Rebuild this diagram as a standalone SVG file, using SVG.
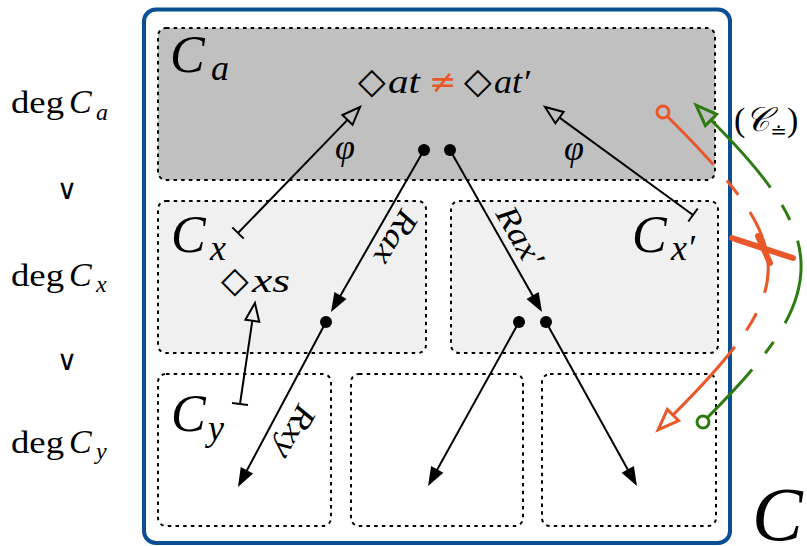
<svg xmlns="http://www.w3.org/2000/svg" width="807" height="546" viewBox="0 0 807 546">
<defs>
<style>
.m{font-family:"Liberation Serif","DejaVu Serif",serif;font-style:italic;fill:#000}
.r{font-family:"Liberation Serif","DejaVu Serif",serif;fill:#000}
.s{font-family:"DejaVu Sans","Noto Sans",sans-serif;fill:#000}
.v{font-family:"DejaVu Serif",serif;fill:#000}
.o{fill:#e9582b}
.box{stroke:#000;stroke-width:2;stroke-dasharray:3.5 4.2}
.ln{stroke:#000;stroke-width:2;fill:none}
.or{stroke:#e9582b;stroke-width:3;fill:none}
.gr{stroke:#2e7b11;stroke-width:3;fill:none}
</style>
<marker id="af" markerUnits="userSpaceOnUse" viewBox="-2 -10 26 20" markerWidth="26" markerHeight="20" refX="16" refY="0" orient="auto" overflow="visible"><path d="M0,-7 L19,0 L0,7 Z" fill="#000"/></marker>
<marker id="ao" markerUnits="userSpaceOnUse" viewBox="-3 -10 26 20" markerWidth="26" markerHeight="20" refX="0" refY="0" orient="auto" overflow="visible"><path d="M0,-7 L18,0 L0,7 Z" fill="none" stroke="#000" stroke-width="2"/></marker>
<marker id="aor" markerUnits="userSpaceOnUse" viewBox="-3 -11 30 22" markerWidth="30" markerHeight="22" refX="0" refY="0" orient="auto" overflow="visible"><path d="M0,-8 L21,0 L0,8 Z" fill="none" stroke="#e9582b" stroke-width="3"/></marker>
<marker id="agr" markerUnits="userSpaceOnUse" viewBox="-3 -11 30 22" markerWidth="30" markerHeight="22" refX="0" refY="0" orient="auto" overflow="visible"><path d="M0,-8 L21,0 L0,8 Z" fill="none" stroke="#2e7b11" stroke-width="3"/></marker>
</defs>
<rect width="807" height="546" fill="#fff"/>

<g id="frame">
<rect x="144" y="9.5" width="586" height="533.5" rx="12" fill="none" stroke="#0a4f94" stroke-width="4"/>
<text class="m" x="752" y="540" font-size="76">C</text>
</g>

<g id="levels">
<text class="r" x="11" y="113" font-size="32" textLength="53" lengthAdjust="spacingAndGlyphs">deg</text>
<text class="m" x="69" y="113" font-size="34">C</text>
<text class="m" x="96" y="120" font-size="24">a</text>
<text class="v" x="67" y="199" font-size="28" text-anchor="middle">∨</text>
<text class="r" x="11" y="286" font-size="32" textLength="53" lengthAdjust="spacingAndGlyphs">deg</text>
<text class="m" x="69" y="286" font-size="34">C</text>
<text class="m" x="96" y="292" font-size="24">x</text>
<text class="v" x="67" y="370" font-size="28" text-anchor="middle">∨</text>
<text class="r" x="11" y="453" font-size="32" textLength="53" lengthAdjust="spacingAndGlyphs">deg</text>
<text class="m" x="69" y="453" font-size="34">C</text>
<text class="m" x="96" y="459" font-size="24">y</text>
</g>

<g id="Ca">
<rect class="box" x="158" y="28" width="557" height="152" rx="8" fill="#c0c0c0"/>
<text class="m" x="170" y="72" font-size="52">C</text>
<text class="m" x="211" y="80" font-size="36">a</text>
<text x="358" y="93" font-size="34"><tspan class="s" font-size="36">◇</tspan><tspan class="m" x="388" textLength="32" lengthAdjust="spacingAndGlyphs">at</tspan><tspan class="s o" x="429" font-size="33">≠</tspan><tspan class="s" x="464" font-size="36">◇</tspan><tspan class="m" x="494" textLength="36" lengthAdjust="spacingAndGlyphs">at′</tspan></text>
</g>

<g id="Cx">
<rect class="box" x="158" y="201" width="268" height="152" rx="8" fill="#f0f0f0"/>
<text class="m" x="171" y="252" font-size="52">C</text>
<text class="m" x="210" y="260" font-size="36">x</text>
<text x="221" y="292" font-size="34"><tspan class="s" font-size="36">◇</tspan><tspan class="m" x="252" textLength="38" lengthAdjust="spacingAndGlyphs">xs</tspan></text>
</g>

<g id="Cx2">
<rect class="box" x="451" y="201" width="267" height="152" rx="8" fill="#f0f0f0"/>
<text class="m" x="632" y="252" font-size="52">C</text>
<text class="m" x="671" y="260" font-size="36">x′</text>
</g>

<g id="Cy">
<rect class="box" x="158" y="374" width="173" height="152" rx="8" fill="none"/>
<text class="m" x="171" y="431" font-size="52">C</text>
<text class="m" x="208" y="440" font-size="36">y</text>
</g>
<g id="Cy2">
<rect class="box" x="351" y="374" width="172" height="152" rx="8" fill="none"/>
</g>
<g id="Cy3">
<rect class="box" x="542" y="374" width="174" height="152" rx="8" fill="none"/>
</g>

<g id="connectors">
<path class="ln" d="M238,233 L347.5,119.9" marker-end="url(#ao)"/>
<path class="ln" d="M232.3,227.4 L243.7,238.6"/>
<text class="m" x="345" y="159" font-size="36" text-anchor="middle">φ</text>
<path class="ln" d="M693,215 L559.5,117.6" marker-end="url(#ao)"/>
<path class="ln" d="M697.7,208.5 L688.3,221.5"/>
<text class="m" x="574" y="160" font-size="36" text-anchor="middle">φ</text>
<path class="ln" d="M240,404 L252.3,320.8" marker-end="url(#ao)"/>
<path class="ln" d="M232,403 L248,405"/>
<path class="ln" d="M424,150 L332.5,309.4" marker-end="url(#af)"/>
<path class="ln" d="M450,150 L540.5,309.4" marker-end="url(#af)"/>
<path class="ln" d="M326,322 L239.4,484.4" marker-end="url(#af)"/>
<path class="ln" d="M519,322 L429.5,483.4" marker-end="url(#af)"/>
<path class="ln" d="M546,322 L635.5,483.4" marker-end="url(#af)"/>
<circle cx="424" cy="150" r="6"/>
<circle cx="450" cy="150" r="6"/>
<circle cx="326" cy="322" r="6"/>
<circle cx="519" cy="322" r="6"/>
<circle cx="546" cy="322" r="6"/>
<text class="m" font-size="32" text-anchor="middle" textLength="58" lengthAdjust="spacingAndGlyphs" transform="translate(387,232.5) rotate(120)">Rax</text>
<text class="m" font-size="32" text-anchor="middle" textLength="64" lengthAdjust="spacingAndGlyphs" transform="translate(511,241.5) rotate(60)">Rax′</text>
<text class="m" font-size="32" text-anchor="middle" textLength="56" lengthAdjust="spacingAndGlyphs" transform="translate(285.7,427.2) rotate(118)">Rxy</text>
<circle class="or" cx="663" cy="112" r="6"/>
<path class="or" d="M667,116 C798,247 804,284 673,415" stroke-dasharray="67 21 18 21 85 22 20 20 400" marker-end="url(#aor)"/>
<circle class="gr" cx="703" cy="422" r="6"/>
<path class="gr" d="M707,418 C830,295 834,243 711,120" stroke-dasharray="66 21 14 22 86 22 17 21 400" marker-end="url(#agr)"/>
<path d="M732,238 L793,258 M758,236 L770,263" stroke="#e9582b" stroke-width="6" stroke-linecap="round" fill="none"/>
<text class="r" x="734" y="131" font-size="34">(<tspan class="m">𝒞</tspan><tspan class="s" font-size="20" dy="7">≐</tspan><tspan dy="-7">)</tspan></text>
</g>
</svg>
